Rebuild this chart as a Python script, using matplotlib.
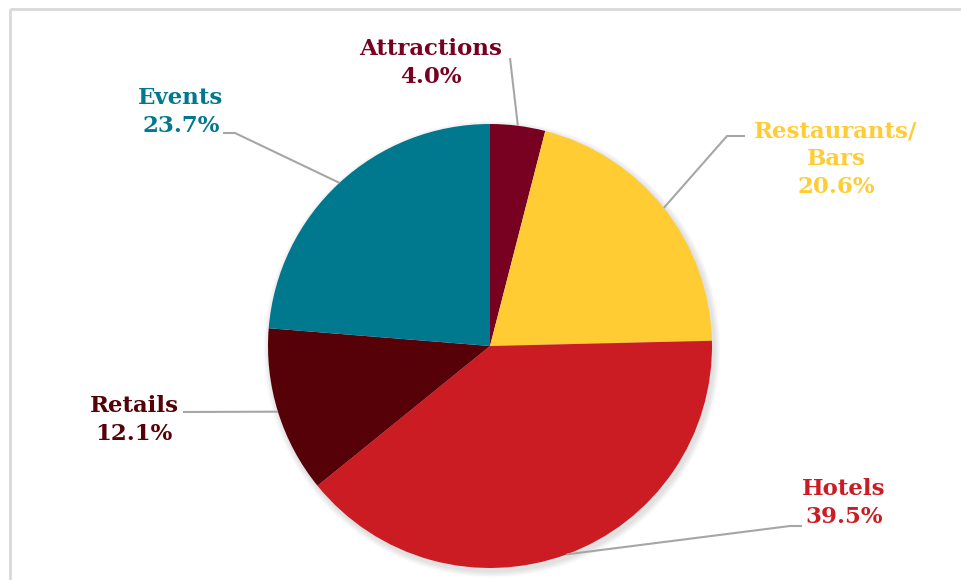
import numpy as np
import matplotlib.pyplot as plt
from matplotlib.patches import Circle, Rectangle

# Share of spending by sector (percent), clockwise from 12 o'clock
sectors = ['Attractions', 'Restaurants/\nBars', 'Hotels', 'Retails', 'Events']
shares = [4.0, 20.6, 39.5, 12.1, 23.7]
colors = ['#780020', '#FFCC33', '#CC1C23', '#560007', '#00788E']

# label text centre and leader-line path (elbow points) in pixel space
label_pos = [(431, 63), (836, 159), (844, 503), (134, 420), (181, 112)]
leader_path = [[(510, 58)],
               [(745, 136), (727, 136)],
               [(802, 526), (790, 526)],
               [(183, 412)],
               [(223, 133), (235, 133)]]

W, H = 961, 580
CX, CY, R = 490, 346, 222

fig = plt.figure(figsize=(W / 100, H / 100), dpi=100)
ax = fig.add_axes([0, 0, 1, 1])

# soft shadow under the pie
for k in range(10):
    ax.add_patch(Circle((CX + 2, CY + 3), R + 1 + k * 0.6, color='black',
                        alpha=0.01, linewidth=0, zorder=1))

# y axis is flipped below, so counterclock=True draws clockwise on screen
wedges, _ = ax.pie(shares, colors=colors, startangle=-90, counterclock=True,
                   center=(CX, CY), radius=R, frame=True,
                   wedgeprops=dict(linewidth=0, zorder=2))
ax.set_xlim(0, W)
ax.set_ylim(H, 0)
ax.set_aspect('equal')
ax.axis('off')

# chart frame
ax.add_patch(Rectangle((9.5, 8.5), W + 20, H + 20, fill=False,
                       edgecolor='#D9D9D9', linewidth=2))

for w, name, val, c, pos, path in zip(wedges, sectors, shares, colors,
                                      label_pos, leader_path):
    mid = np.deg2rad((w.theta1 + w.theta2) / 2)
    edge = (CX + R * np.cos(mid), CY + R * np.sin(mid))
    pts = path + [edge]
    ax.plot([p[0] for p in pts], [p[1] for p in pts], color='#A6A6A6',
            linewidth=1.5, zorder=3, solid_capstyle='butt')
    ax.text(pos[0], pos[1], f'{name}\n{val:.1f}%', color=c,
            family='DejaVu Serif', weight='bold', fontsize=16.5,
            ha='center', va='center', linespacing=1.35, zorder=4)

fig.savefig('out.png', dpi=100, facecolor='white')
